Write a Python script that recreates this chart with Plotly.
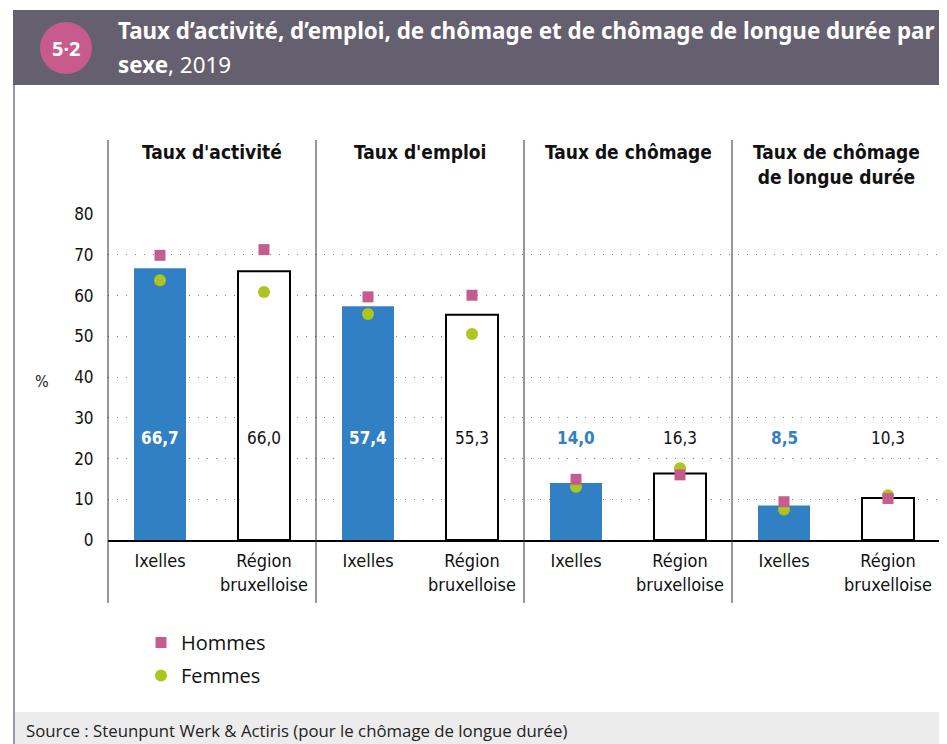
import plotly.graph_objects as go

# ---------------- data ----------------
panels = ["Taux d'activité", "Taux d'emploi", "Taux de chômage",
          "Taux de chômage<br>de longue durée"]
areas = ["Ixelles", "Région<br>bruxelloise"]
ixelles_total = [66.7, 57.4, 14.0, 8.5]
region_total = [66.0, 55.3, 16.3, 10.3]
ixelles_hommes = [69.9, 59.7, 14.9, 9.4]
ixelles_femmes = [63.8, 55.5, 13.1, 7.5]
region_hommes = [71.3, 60.1, 16.0, 10.2]
region_femmes = [60.9, 50.6, 17.6, 11.0]
y_ticks = [0, 10, 20, 30, 40, 50, 60, 70, 80]
label_level = 25  # vertical level of the value labels

# ---------------- styling ----------------
OFF = 8                      # page body margin
W, H = 947 - OFF, 744 - OFF
L = 108 - OFF
T = 214 - OFF
R = W - (940 - OFF)
B = H - (540 - OFF)
PW, PH = W - L - R, H - T - B


def px(x):
    return (x - OFF - L) / PW


def py(y):
    return (H - B - (y - OFF)) / PH


BLUE = "#3280c4"
PINK = "#c45c8e"
LIME = "#afc51f"
COND = "Liberation Sans Narrow, DejaVu Sans Condensed, Arial Narrow, sans-serif"
REG = "Open Sans, Noto Sans, sans-serif"

x_ix = [2 * i for i in range(len(panels))]
x_rg = [2 * i + 1 for i in range(len(panels))]

fig = go.Figure()

fig.add_trace(go.Bar(x=x_ix, y=ixelles_total, width=0.5,
                     marker=dict(color=BLUE, line=dict(width=0)),
                     showlegend=False, hoverinfo="skip"))
fig.add_trace(go.Bar(x=x_rg, y=region_total, width=0.5,
                     marker=dict(color="white", line=dict(color="black", width=2)),
                     showlegend=False, hoverinfo="skip"))

xs, fem, hom = [], [], []
for i in range(len(panels)):
    xs += [x_ix[i], x_rg[i]]
    fem += [ixelles_femmes[i], region_femmes[i]]
    hom += [ixelles_hommes[i], region_hommes[i]]

fig.add_trace(go.Scatter(x=xs, y=fem, mode="markers", name="Femmes",
                         marker=dict(symbol="circle", size=12, color=LIME),
                         legendrank=2, legendgroup="f"))
fig.add_trace(go.Scatter(x=xs, y=hom, mode="markers", name="Hommes",
                         marker=dict(symbol="square", size=11, color=PINK),
                         legendrank=1, legendgroup="h"))

annotations = []
# value labels
for i in range(len(panels)):
    inside = ixelles_total[i] > label_level + 5
    annotations.append(dict(
        x=x_ix[i], y=label_level, xref="x", yref="y", showarrow=False,
        text="<b>" + f"{ixelles_total[i]:.1f}".replace(".", ",") + "</b>",
        font=dict(family=COND, size=17, color="white" if inside else BLUE)))
    annotations.append(dict(
        x=x_rg[i], y=label_level, xref="x", yref="y", showarrow=False,
        text=f"{region_total[i]:.1f}".replace(".", ","),
        font=dict(family=COND, size=17, color="#111")))

# panel headers
for i, p in enumerate(panels):
    annotations.append(dict(
        x=(i + 0.5) / len(panels), y=py(139), xref="paper", yref="paper",
        xanchor="center", yanchor="top", showarrow=False, text="<b>" + p + "</b>",
        font=dict(family=COND, size=19, color="#111")))

# % label
annotations.append(dict(x=px(42), y=py(381), xref="paper", yref="paper",
                        xanchor="center", yanchor="middle",
                        showarrow=False, text="%",
                        font=dict(family=COND, size=16, color="#222")))

# title
annotations.append(dict(x=px(66), y=py(48), xref="paper", yref="paper",
                        xanchor="center", yanchor="middle",
                        showarrow=False, text="<b>5·2</b>",
                        font=dict(family="Noto Sans, sans-serif", size=20, color="white")))
annotations.append(dict(x=px(116), y=py(31), xref="paper", yref="paper",
                        xanchor="left", yanchor="middle", showarrow=False,
                        text="<b>Taux d’activité, d’emploi, de chômage et de chômage de longue durée par</b>",
                        font=dict(family="Noto Sans, sans-serif", size=22.4, color="white")))
annotations.append(dict(x=px(116), y=py(64), xref="paper", yref="paper",
                        xanchor="left", yanchor="middle", showarrow=False,
                        text="<b>sexe</b>, 2019",
                        font=dict(family="Noto Sans, sans-serif", size=22.4, color="white")))
# source
annotations.append(dict(x=px(24), y=py(730), xref="paper", yref="paper",
                        xanchor="left", yanchor="middle", showarrow=False,
                        text="Source : Steunpunt Werk & Actiris (pour le chômage de longue durée)",
                        font=dict(family=REG, size=16.8, color="#222")))

shapes = []
# header band
shapes.append(dict(type="rect", xref="paper", yref="paper",
                   x0=px(13), x1=px(950), y0=py(85), y1=py(10),
                   fillcolor="#65606f", line=dict(width=0), layer="below"))
shapes.append(dict(type="circle", xref="paper", yref="paper",
                   x0=px(40), x1=px(92), y0=py(74), y1=py(22),
                   fillcolor="#c95b8c", line=dict(width=0)))
# footer band
shapes.append(dict(type="rect", xref="paper", yref="paper",
                   x0=px(15), x1=px(950), y0=py(748), y1=py(712),
                   fillcolor="#ececec", line=dict(width=0), layer="below"))
# left frame line
shapes.append(dict(type="line", xref="paper", yref="paper",
                   x0=px(14), x1=px(14), y0=py(85), y1=py(748),
                   line=dict(color="#9c99aa", width=2)))
# panel separators
for k in range(len(panels) + 1):
    shapes.append(dict(type="line", xref="paper", yref="paper",
                       x0=k / len(panels), x1=k / len(panels),
                       y0=py(603), y1=py(140),
                       line=dict(color="#333", width=1)))

fig.update_layout(
    width=W, height=H,
    margin=dict(l=L, r=R, t=T, b=B),
    paper_bgcolor="white", plot_bgcolor="white",
    barmode="overlay",
    showlegend=True,
    legend=dict(x=px(141), y=py(623), xanchor="left", yanchor="top",
                font=dict(family=REG, size=20, color="#111"),
                tracegroupgap=4, bgcolor="rgba(0,0,0,0)"),
    annotations=annotations,
    shapes=shapes,
    xaxis=dict(range=[-0.5, 7.5], tickmode="array",
               tickvals=xs, ticktext=areas * len(panels),
               showgrid=False, zeroline=False,
               showline=True, linecolor="black", linewidth=1.5,
               ticks="outside", ticklen=4, tickcolor="rgba(0,0,0,0)",
               tickfont=dict(family=COND, size=18, color="#111")),
    yaxis=dict(range=[0, 80.05], tickmode="array", tickvals=y_ticks,
               showgrid=True, gridcolor="#808080", gridwidth=1, griddash="1px,8px",
               zeroline=False, showline=False,
               ticks="outside", ticklen=10, tickcolor="rgba(0,0,0,0)",
               tickfont=dict(family=COND, size=17, color="#111")),
)

fig.write_html("out.html")
